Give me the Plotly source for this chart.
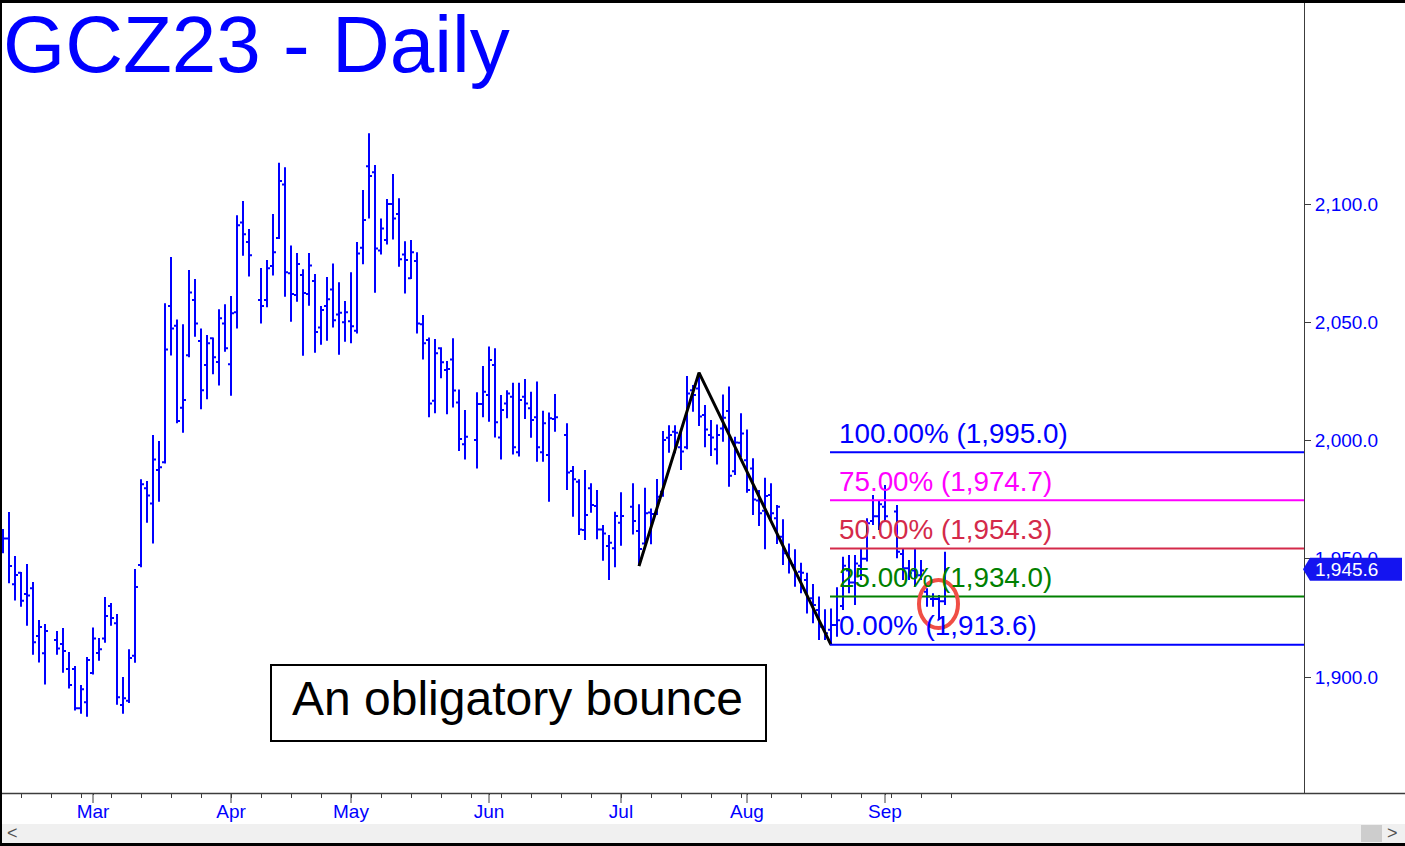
import plotly.graph_objects as go
import pandas as pd

# ---------------- data ----------------
holidays = ["2023-02-20", "2023-04-07", "2023-05-29", "2023-06-19", "2023-07-04", "2023-09-04"]
days = [d.strftime("%Y-%m-%d") for d in pd.bdate_range("2023-02-08", "2023-09-15")
        if d.strftime("%Y-%m-%d") not in holidays]

opens = [
    # Feb
    1958.6, 1958.6, 1939.2, 1944.1, 1935.1, 1937.5, 1917.3, 1910.0, 1915.6, 1914.0, 1903.4, 1903.4, 1886.8, 1889.3,
    # Mar
    1901.7, 1910.1, 1916.3, 1930.0, 1922.7, 1888.2, 1890.0, 1909.0, 1947.4, 1979.8, 1973.4, 1987.5, 1990.8, 2056.9,
    2048.5, 2013.9, 2036.1, 2059.4, 2042.1, 2031.9, 2043.2, 2033.2, 2049.5,
    # Apr
    2032.2, 2054.2, 2092.2, 2083.9, 2059.4, 2059.4, 2073.8, 2085.6, 2108.3, 2070.7, 2061.5, 2070.0, 2061.9, 2067.4,
    2047.8, 2056.9, 2063.9, 2053.3, 2050.0,
    # May
    2050.4, 2046.4, 2081.5, 2116.0, 2113.4, 2080.3, 2084.8, 2100.0, 2095.8, 2078.7, 2068.6, 2075.9, 2049.2, 2042.5,
    2016.8, 2039.0, 2029.8, 2034.3, 2016.1, 1998.4, 2000.2, 2015.4,
    # Jun
    2019.2, 2031.9, 2001.3, 2015.7, 2018.5, 1995.0, 2018.5, 2013.6, 2009.8, 1995.0, 1993.9, 2009.1, 2002.3, 1987.1,
    1982.6, 1962.2, 1979.8, 1972.3, 1962.4, 1955.4, 1954.4,
    # Jul
    1965.2, 1972.0, 1961.7, 1956.5, 1969.6, 1968.9, 1978.3, 2001.2, 2003.7, 1997.1, 1997.1, 2021.3, 2022.0, 2010.8,
    2002.3, 1996.3, 2005.1, 2012.5, 1987.0, 1999.0,
    # Aug
    1991.7, 1988.2, 1974.6, 1970.3, 1977.0, 1967.1, 1959.3, 1951.6, 1947.4, 1944.5, 1941.0, 1933.3, 1928.3, 1921.3,
    1920.0, 1922.0, 1930.0, 1945.0, 1940.0, 1947.0, 1950.0, 1966.0, 1968.0,
    # Sep
    1972.0, 1970.0, 1952.0, 1946.0, 1945.0, 1943.0, 1936.0, 1933.0, 1933.0, 1932.0,
]
highs = [
    1962.6, 1969.8, 1951.2, 1944.4, 1947.8, 1940.2, 1924.1, 1922.4, 1919.4, 1920.7, 1910.6, 1904.7, 1896.6, 1908.5,
    1920.9, 1916.5, 1933.8, 1931.3, 1926.6, 1900.0, 1911.7, 1945.7, 1983.6, 1982.9, 2002.3, 1999.8, 2058.0, 2077.6,
    2051.2, 2049.2, 2072.1, 2068.3, 2047.4, 2044.6, 2043.6, 2055.5, 2057.6,
    2061.1, 2095.3, 2101.3, 2089.4, 2072.9, 2076.3, 2095.8, 2117.5, 2115.6, 2082.5, 2079.3, 2072.4, 2079.3, 2070.4,
    2056.9, 2069.1, 2074.9, 2066.9, 2059.0,
    2071.1, 2083.9, 2105.9, 2129.9, 2116.5, 2093.9, 2102.1, 2112.7, 2102.4, 2084.3, 2084.8, 2079.6, 2053.1, 2043.6,
    2042.9, 2039.4, 2033.6, 2043.2, 2021.6, 2012.9, 2020.4, 2031.5,
    2039.7, 2039.0, 2019.2, 2021.3, 2024.4, 2024.4, 2026.0, 2020.6, 2024.9, 2012.6, 2011.8, 2019.7, 2007.3, 1989.2,
    1983.6, 1987.5, 1981.9, 1979.1, 1964.3, 1960.0, 1969.9,
    1978.1, 1981.9, 1973.1, 1980.0, 1971.3, 1983.7, 2004.0, 2006.5, 2006.5, 2003.7, 2027.3, 2023.5, 2028.7, 2015.0,
    2008.7, 2006.8, 2019.5, 2022.8, 2001.6, 2011.5,
    2004.7, 1992.5, 1979.1, 1984.3, 1981.9, 1972.7, 1966.7, 1956.5, 1954.0, 1948.3, 1944.1, 1939.3, 1934.0, 1928.6,
    1929.0, 1938.0, 1950.9, 1951.6, 1951.6, 1954.4, 1967.1, 1977.0, 1974.8,
    1981.2, 1972.7, 1954.4, 1949.5, 1954.4, 1949.5, 1937.5, 1935.4, 1934.7, 1953.0,
]
lows = [
    1952.3, 1939.6, 1932.3, 1929.7, 1921.7, 1909.4, 1906.1, 1896.8, 1909.4, 1901.8, 1895.1, 1885.8, 1884.5, 1883.2,
    1901.1, 1906.9, 1914.5, 1921.7, 1888.3, 1884.5, 1889.0, 1906.0, 1946.4, 1965.2, 1956.5, 1974.1, 1990.3, 2035.9,
    2007.3, 2003.3, 2035.2, 2043.9, 2013.2, 2017.4, 2028.0, 2023.3, 2037.5,
    2018.9, 2047.4, 2078.1, 2069.3, 2049.5, 2056.3, 2069.8, 2085.2, 2060.8, 2050.2, 2058.7, 2035.8, 2057.0, 2037.1,
    2040.5, 2042.2, 2047.8, 2036.3, 2041.8,
    2041.1, 2045.3, 2074.5, 2093.9, 2062.5, 2078.7, 2082.9, 2085.0, 2073.5, 2062.2, 2068.3, 2045.3, 2034.3, 2009.8,
    2011.5, 2026.3, 2011.1, 2014.0, 1995.6, 1992.0, 1988.2, 2009.8,
    2007.9, 2001.3, 1992.0, 2009.4, 1994.1, 1993.2, 2009.1, 2001.2, 1991.0, 1991.0, 1974.1, 2003.7, 1979.1, 1967.8,
    1960.0, 1957.9, 1969.5, 1958.2, 1949.2, 1941.0, 1946.4,
    1955.5, 1960.3, 1946.9, 1956.1, 1956.1, 1968.5, 1976.2, 1994.8, 1994.6, 1987.5, 1996.3, 2012.2, 2006.1, 1997.1,
    1993.4, 1989.9, 1999.5, 1980.5, 1985.4, 1993.0,
    1977.9, 1968.5, 1963.8, 1954.0, 1966.0, 1956.2, 1947.4, 1943.8, 1938.2, 1935.4, 1926.9, 1922.7, 1915.6, 1915.6,
    1913.6, 1917.0, 1928.3, 1935.4, 1930.4, 1941.0, 1948.8, 1964.3, 1962.2,
    1965.7, 1950.2, 1941.0, 1941.0, 1938.2, 1941.0, 1929.7, 1929.7, 1924.1, 1930.4,
]
closes = [
    1958.6, 1946.9, 1943.1, 1932.2, 1934.5, 1914.7, 1921.1, 1919.4, 1912.1, 1911.0, 1896.6, 1886.8, 1894.8, 1907.2,
    1916.3, 1911.7, 1925.8, 1924.9, 1891.4, 1891.0, 1908.0, 1938.1, 1981.5, 1976.8, 1992.0, 1988.7, 2038.5, 2047.4,
    2008.2, 2017.1, 2062.6, 2049.5, 2021.3, 2041.1, 2035.2, 2051.7, 2039.0,
    2053.8, 2091.0, 2087.2, 2078.3, 2056.9, 2072.8, 2079.6, 2109.7, 2071.1, 2061.9, 2074.6, 2062.4, 2074.0, 2045.9,
    2055.2, 2059.7, 2050.8, 2054.0, 2054.2,
    2048.3, 2079.1, 2093.2, 2111.8, 2081.2, 2089.7, 2100.0, 2093.9, 2076.6, 2076.3, 2079.6, 2049.5, 2041.1, 2015.7,
    2036.9, 2033.1, 2030.2, 2021.1, 2000.6, 2001.6, 2015.4, 2020.6,
    2034.0, 2007.7, 2012.9, 2019.9, 1997.1, 2017.1, 2015.7, 2008.7, 1997.1, 2007.3, 2009.4, 2009.8, 1986.5, 1983.6,
    1962.4, 1968.5, 1972.7, 1962.4, 1960.7, 1956.8, 1968.1,
    1968.1, 1966.0, 1954.1, 1969.2, 1968.9, 1976.2, 2000.2, 2002.3, 2003.3, 1995.3, 2019.9, 2019.2, 2010.1, 2004.7,
    2001.3, 2002.3, 2009.6, 1985.1, 1999.2, 2003.0,
    1979.1, 1975.1, 1969.2, 1976.5, 1969.2, 1972.0, 1952.3, 1948.8, 1943.8, 1944.1, 1932.6, 1930.4, 1921.3, 1918.5,
    1922.0, 1924.0, 1947.0, 1940.0, 1948.0, 1950.0, 1965.0, 1968.0, 1973.0,
    1968.0, 1953.0, 1946.0, 1944.0, 1943.0, 1945.0, 1934.0, 1933.0, 1932.0, 1945.6,
]

month_days = ["2023-03-01", "2023-04-03", "2023-05-01", "2023-06-01", "2023-07-03", "2023-08-01", "2023-09-01"]
month_labels = ["Mar", "Apr", "May", "Jun", "Jul", "Aug", "Sep"]
y_ticks = [1900, 1950, 2000, 2050, 2100]

fib_pct = ["100.00%", "75.00%", "50.00%", "25.00%", "0.00%"]
fib_val = [1995.0, 1974.7, 1954.3, 1934.0, 1913.6]
fib_col = ["#0000ff", "#ff00ff", "#d42a4a", "#008000", "#0000ff"]

zig_days = ["2023-07-06", "2023-07-20", "2023-08-21"]
zig_vals = [1946.9, 2028.7, 1913.6]

title_text = "GCZ23 - Daily"
note_text = "An obligatory bounce"

# ---------------- layout helpers ----------------
W, H = 1405, 846
PL, PR, PT, PB = 2, 1304, 3, 793
Y0, Y1 = 1850.95, 2185.0
FONT = "Liberation Sans, Arial, sans-serif"
AXC = "#3c3c3c"


def px(x):
    return (x - PL) / (PR - PL)


def py(y):
    return (PB - y) / (PB - PT)


def val2py(v):
    return PB - (v - Y0) / (Y1 - Y0) * (PB - PT)


NOON = " 12:00"
xs = [d + NOON for d in days]
weekly = [d.strftime("%Y-%m-%d") + NOON for d in pd.date_range("2023-02-13", "2023-09-18", freq="W-MON")]

fig = go.Figure()
fig.add_trace(go.Ohlc(
    x=xs, open=opens, high=highs, low=lows, close=closes,
    increasing=dict(line=dict(color="#0000ff", width=2)),
    decreasing=dict(line=dict(color="#0000ff", width=2)),
    tickwidth=0.5, showlegend=False, hoverinfo="skip",
))

fig.add_trace(go.Scatter(
    x=[d + NOON for d in zig_days], y=zig_vals, mode="lines",
    line=dict(color="black", width=3), showlegend=False, hoverinfo="skip",
))

shapes = []
annotations = []

# fib lines + labels
for pct, v, c in zip(fib_pct, fib_val, fib_col):
    shapes.append(dict(type="line", xref="paper", yref="y", x0=px(830), x1=1, y0=v, y1=v,
                       line=dict(color=c, width=2), layer="above"))
    annotations.append(dict(xref="paper", yref="y", x=px(837), y=v, xanchor="left", yanchor="middle",
                            yshift=19, text=f"{pct} ({v:,.1f})", showarrow=False,
                            font=dict(family=FONT, size=27.8, color=c)))

# red circle
shapes.append(dict(type="circle", xref="paper", yref="paper", x0=px(919), x1=px(958), y0=py(628), y1=py(580),
                   line=dict(color="#f04e45", width=4), layer="above"))

# note box
shapes.append(dict(type="rect", xref="paper", yref="paper", x0=px(271), x1=px(766), y0=py(741), y1=py(665),
                   line=dict(color="black", width=2), fillcolor="white", layer="above"))
annotations.append(dict(xref="paper", yref="paper", x=px(517), y=py(698), xanchor="center", yanchor="middle",
                        text=note_text, showarrow=False, font=dict(family=FONT, size=48, color="black")))

# title
annotations.append(dict(xref="paper", yref="paper", x=px(1), y=py(45), xanchor="left", yanchor="middle",
                        text=title_text, showarrow=False, font=dict(family=FONT, size=80, color="#0000ff")))

# last price tag
last = closes[-1]
cy = val2py(last)
tag_pts = [(1303, cy), (1310, cy - 11.5), (1402, cy - 11.5), (1402, cy + 11.5), (1310, cy + 11.5)]
path = "M " + " L ".join(f"{px(a):.6f},{py(b):.6f}" for a, b in tag_pts) + " Z"
shapes.append(dict(type="path", xref="paper", yref="paper", path=path, fillcolor="#1414f0",
                   line=dict(width=0), layer="above"))
annotations.append(dict(xref="paper", yref="paper", x=px(1313), y=py(cy), xanchor="left", yanchor="middle",
                        text=f"{last:,.1f}", showarrow=False, font=dict(family=FONT, size=19, color="white")))

# month (major) tick marks
for d in month_days:
    shapes.append(dict(type="line", xref="x", yref="paper", x0=d + NOON, x1=d + NOON, y0=py(793), y1=py(803),
                       line=dict(color=AXC, width=1), layer="above"))

# bottom axis line full width
shapes.append(dict(type="line", xref="paper", yref="paper", x0=px(0), x1=px(1405), y0=py(793.5), y1=py(793.5),
                   line=dict(color=AXC, width=1.5), layer="above"))

# scrollbar
shapes.append(dict(type="rect", xref="paper", yref="paper", x0=px(2), x1=px(1405), y0=py(843), y1=py(824),
                   fillcolor="#f0f0f0", line=dict(width=0), layer="above"))
shapes.append(dict(type="rect", xref="paper", yref="paper", x0=px(1361), x1=px(1382), y0=py(842), y1=py(825),
                   fillcolor="#cdcdcd", line=dict(width=0), layer="above"))
annotations.append(dict(xref="paper", yref="paper", x=px(12), y=py(833), xanchor="center", yanchor="middle",
                        text="&lt;", showarrow=False, font=dict(family=FONT, size=18, color="#505050")))
annotations.append(dict(xref="paper", yref="paper", x=px(1392), y=py(833), xanchor="center", yanchor="middle",
                        text="&gt;", showarrow=False, font=dict(family=FONT, size=18, color="#505050")))

# window borders
for x0, x1, y0, y1 in [(0, 1405, 0, 3), (0, 2, 0, 846), (0, 1405, 843, 846)]:
    shapes.append(dict(type="rect", xref="paper", yref="paper", x0=px(x0), x1=px(x1), y0=py(y1), y1=py(y0),
                       fillcolor="black", line=dict(width=0), layer="above"))

fig.update_layout(
    width=W, height=H,
    margin=dict(l=PL, r=W - PR, t=PT, b=H - PB, pad=0),
    paper_bgcolor="white", plot_bgcolor="white",
    showlegend=False,
    shapes=shapes, annotations=annotations,
    xaxis=dict(
        type="date", range=["2023-02-08 08:00", "2023-12-08 08:00"],
        rangebreaks=[dict(bounds=["sat", "mon"])],
        rangeslider=dict(visible=False),
        tickmode="array", tickvals=[d + NOON for d in month_days], ticktext=month_labels,
        ticks="outside", ticklen=1, tickwidth=1, tickcolor=AXC,
        minor=dict(tickmode="array", tickvals=weekly, ticks="outside", ticklen=4, tickwidth=1, tickcolor=AXC),
        showline=False, showgrid=False, zeroline=False,
        tickfont=dict(family=FONT, size=19, color="#0000ff"),
        fixedrange=True,
    ),
    yaxis=dict(
        side="right", range=[Y0, Y1],
        tickmode="array", tickvals=y_ticks, ticktext=[f"{v:,.1f}" for v in y_ticks],
        ticks="outside", ticklen=6, tickwidth=1, tickcolor=AXC,
        showline=True, linecolor=AXC, linewidth=1,
        showgrid=False, zeroline=False,
        tickfont=dict(family=FONT, size=19, color="#0000ff"),
        fixedrange=True,
    ),
)

fig.write_html("out.html", config={"displayModeBar": False},
               post_script="document.body.style.margin='0';document.body.style.overflow='hidden';")
